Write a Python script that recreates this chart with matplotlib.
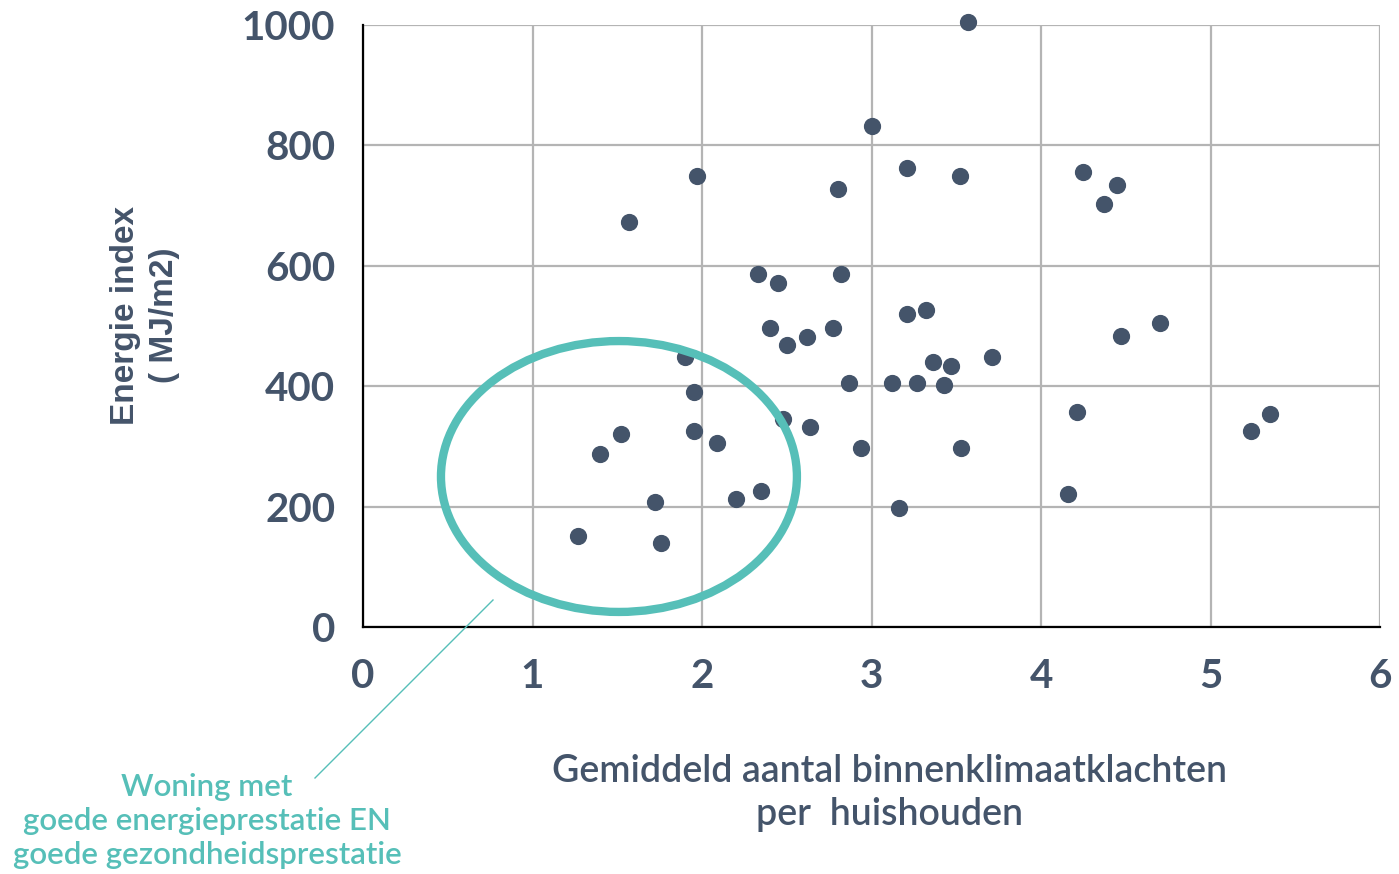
import matplotlib.pyplot as plt
from matplotlib.patches import Ellipse
from matplotlib.lines import Line2D

# klachten per huishouden (x) en energie index (y)
klachten = [3.57, 3.00, 1.97, 1.57, 3.21, 3.52, 2.80, 4.25, 4.45, 4.37,
            2.33, 2.45, 2.82, 3.21, 3.32, 2.40, 2.77, 2.50, 2.62, 4.70,
            4.47, 1.90, 3.36, 3.47, 3.71, 2.87, 3.12, 3.27, 3.43, 1.95,
            2.48, 2.64, 4.21, 5.35, 5.24, 1.52, 1.95, 2.09, 1.40, 2.94,
            3.53, 2.35, 2.20, 1.72, 4.16, 3.16, 1.27, 1.76]
energie = [1005, 833, 749, 672, 762, 749, 728, 755, 734, 702,
           587, 572, 587, 520, 526, 497, 497, 469, 482, 505,
           484, 448, 441, 434, 448, 405, 405, 405, 402, 390,
           346, 333, 357, 354, 326, 320, 326, 305, 287, 298,
           298, 226, 213, 208, 221, 198, 151, 140]

x_ticks = [0, 1, 2, 3, 4, 5, 6]
y_ticks = [0, 200, 400, 600, 800, 1000]

dark = "#44546A"
teal = "#56BFB8"

plt.rcParams["font.family"] = ["Lato", "DejaVu Sans"]

fig = plt.figure(figsize=(13.99, 8.74), dpi=100)
ax = fig.add_axes([363 / 1399, 1 - 627 / 874, 1017 / 1399, 602 / 874])

ax.scatter(klachten, energie, s=130, color=dark, zorder=3, clip_on=False)

ax.set_xlim(0, 6)
ax.set_ylim(0, 1000)
ax.set_xticks(x_ticks)
ax.set_yticks(y_ticks)
ax.set_xticklabels([str(t) for t in x_ticks], fontsize=29, fontweight="bold", color=dark)
ax.set_yticklabels([str(t) for t in y_ticks], fontsize=29, fontweight="bold", color=dark)
ax.tick_params(axis="x", length=0, pad=22)
ax.tick_params(axis="y", length=0, pad=20)

ax.grid(True, color="#B4B4B4", linewidth=1.6, zorder=0)
ax.set_axisbelow(True)
ax.spines["top"].set_visible(False)
ax.spines["right"].set_visible(False)
ax.spines["left"].set_linewidth(1.6)
ax.spines["bottom"].set_linewidth(1.6)
ax.spines["left"].set_color("black")
ax.spines["bottom"].set_color("black")

# omcirkelde groep
ax.add_patch(Ellipse((1.51, 250), 2.10, 450, fill=False, edgecolor=teal,
                     linewidth=6, zorder=4, clip_on=False))

fig.add_artist(Line2D([493 / 1399, 315 / 1399], [1 - 600 / 874, 1 - 778 / 874],
                      color=teal, linewidth=1))

fig.text(207 / 1399, 1 - 821 / 874,
         "Woning met\ngoede energieprestatie EN\ngoede gezondheidsprestatie",
         ha="center", va="center", fontsize=22.5, fontweight="semibold",
         color=teal, linespacing=1.25)

fig.text(890 / 1399, 1 - 793 / 874, "Gemiddeld aantal binnenklimaatklachten\nper  huishouden",
         ha="center", va="center", fontsize=27, fontweight="semibold",
         color=dark, linespacing=1.25)

fig.text(145 / 1399, 1 - 315 / 874, "Energie index\n( MJ/m2)", rotation=90,
         ha="center", va="center", fontsize=24, fontweight="bold",
         family=["Liberation Sans", "DejaVu Sans"], color=dark, linespacing=1.35)

fig.savefig("out.png", dpi=100)
